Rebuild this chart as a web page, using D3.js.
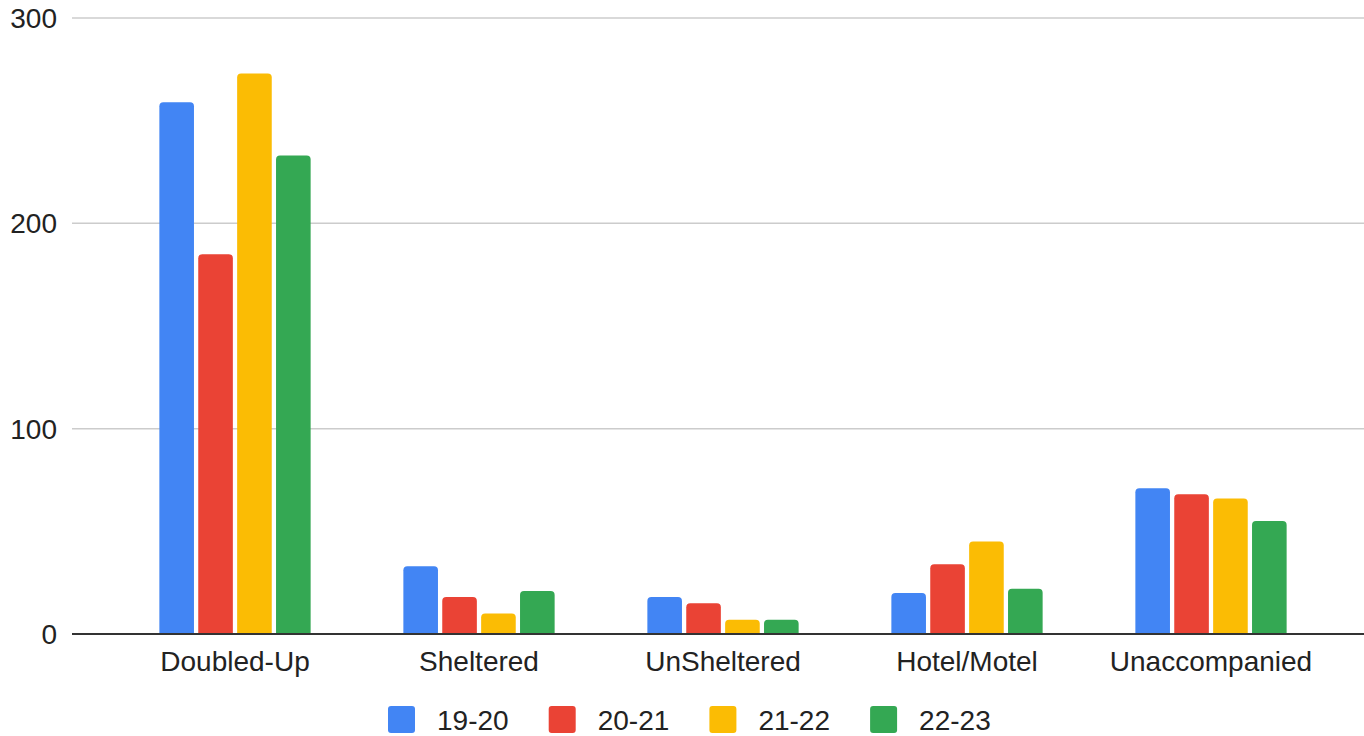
<!DOCTYPE html>
<html>
<head>
<meta charset="UTF-8">
<title>Homeless students by category</title>
<script src="https://d3js.org/d3.v7.min.js"></script>
<style>
  body { margin: 0; background: #fff; }
  svg text { font-family: "Liberation Sans", Arial, sans-serif; fill: #222; }
</style>
</head>
<body>
<div id="chart"></div>
<script>
// data
var categories = ["Doubled-Up", "Sheltered", "UnSheltered", "Hotel/Motel", "Unaccompanied"];
var seriesNames = ["19-20", "20-21", "21-22", "22-23"];
var colors = ["#4285F4", "#EA4335", "#FBBC04", "#34A853"];
var values1920 = [259, 33, 18, 20, 71];
var values2021 = [185, 18, 15, 34, 68];
var values2122 = [273, 10, 7, 45, 66];
var values2223 = [233, 21, 7, 22, 55];
var yTicks = [0, 100, 200, 300];

var allValues = [values1920, values2021, values2122, values2223];

var W = 1364, H = 736;
// note: "top" is a window property, so use other names
var plotLeft = 72, plotRight = 1364, plotTop = 18, plotBottom = 634;

var svg = d3.select("#chart").append("svg")
  .attr("width", W)
  .attr("height", H);

var y = d3.scaleLinear().domain([0, 300]).range([plotBottom, plotTop]);

var x0 = d3.scaleBand()
  .domain(categories)
  .range([113, 1333])
  .paddingInner(0.38)
  .paddingOuter(0.19);

var x1 = d3.scaleBand()
  .domain(seriesNames)
  .range([0, x0.bandwidth()])
  .paddingInner(0.11);

// gridlines
svg.append("g")
  .selectAll("line")
  .data(yTicks.filter(function(d) { return d > 0; }))
  .enter().append("line")
  .attr("x1", plotLeft)
  .attr("x2", plotRight)
  .attr("y1", function(d) { return y(d); })
  .attr("y2", function(d) { return y(d); })
  .attr("stroke", "#cccccc")
  .attr("stroke-width", 1.5);

// y labels
svg.append("g")
  .selectAll("text")
  .data(yTicks)
  .enter().append("text")
  .attr("x", 57)
  .attr("y", function(d) { return y(d); })
  .attr("dy", "0.36em")
  .attr("text-anchor", "end")
  .style("font-size", "28px")
  .text(function(d) { return d; });

// bars with rounded tops
function topRounded(x, yTop, w, h, r) {
  r = Math.min(r, h, w / 2);
  return "M" + x + "," + (yTop + h) +
    "V" + (yTop + r) +
    "Q" + x + "," + yTop + " " + (x + r) + "," + yTop +
    "H" + (x + w - r) +
    "Q" + (x + w) + "," + yTop + " " + (x + w) + "," + (yTop + r) +
    "V" + (yTop + h) + "Z";
}

var groups = svg.append("g")
  .selectAll("g")
  .data(categories)
  .enter().append("g")
  .attr("transform", function(d) { return "translate(" + x0(d) + ",0)"; });

groups.selectAll("path")
  .data(function(d, i) {
    return seriesNames.map(function(s, j) { return { s: s, v: allValues[j][i], c: colors[j] }; });
  })
  .enter().append("path")
  .attr("d", function(d) {
    return topRounded(x1(d.s), y(d.v), x1.bandwidth(), y(0) - y(d.v), 4);
  })
  .attr("fill", function(d) { return d.c; });

// baseline
svg.append("line")
  .attr("x1", plotLeft)
  .attr("x2", plotRight)
  .attr("y1", y(0))
  .attr("y2", y(0))
  .attr("stroke", "#333")
  .attr("stroke-width", 2);

// x labels
svg.append("g")
  .selectAll("text")
  .data(categories)
  .enter().append("text")
  .attr("x", function(d) { return x0(d) + x0.bandwidth() / 2; })
  .attr("y", 671)
  .attr("text-anchor", "middle")
  .style("font-size", "28px")
  .text(function(d) { return d; });

// legend
var legend = svg.append("g")
  .selectAll("g")
  .data(seriesNames)
  .enter().append("g")
  .attr("transform", function(d, i) { return "translate(" + (388 + i * 160.7) + ",706)"; });

legend.append("rect")
  .attr("width", 27)
  .attr("height", 27)
  .attr("rx", 3)
  .attr("fill", function(d, i) { return colors[i]; });

legend.append("text")
  .attr("x", 49)
  .attr("y", 24)
  .style("font-size", "28px")
  .text(function(d) { return d; });
</script>
</body>
</html>
